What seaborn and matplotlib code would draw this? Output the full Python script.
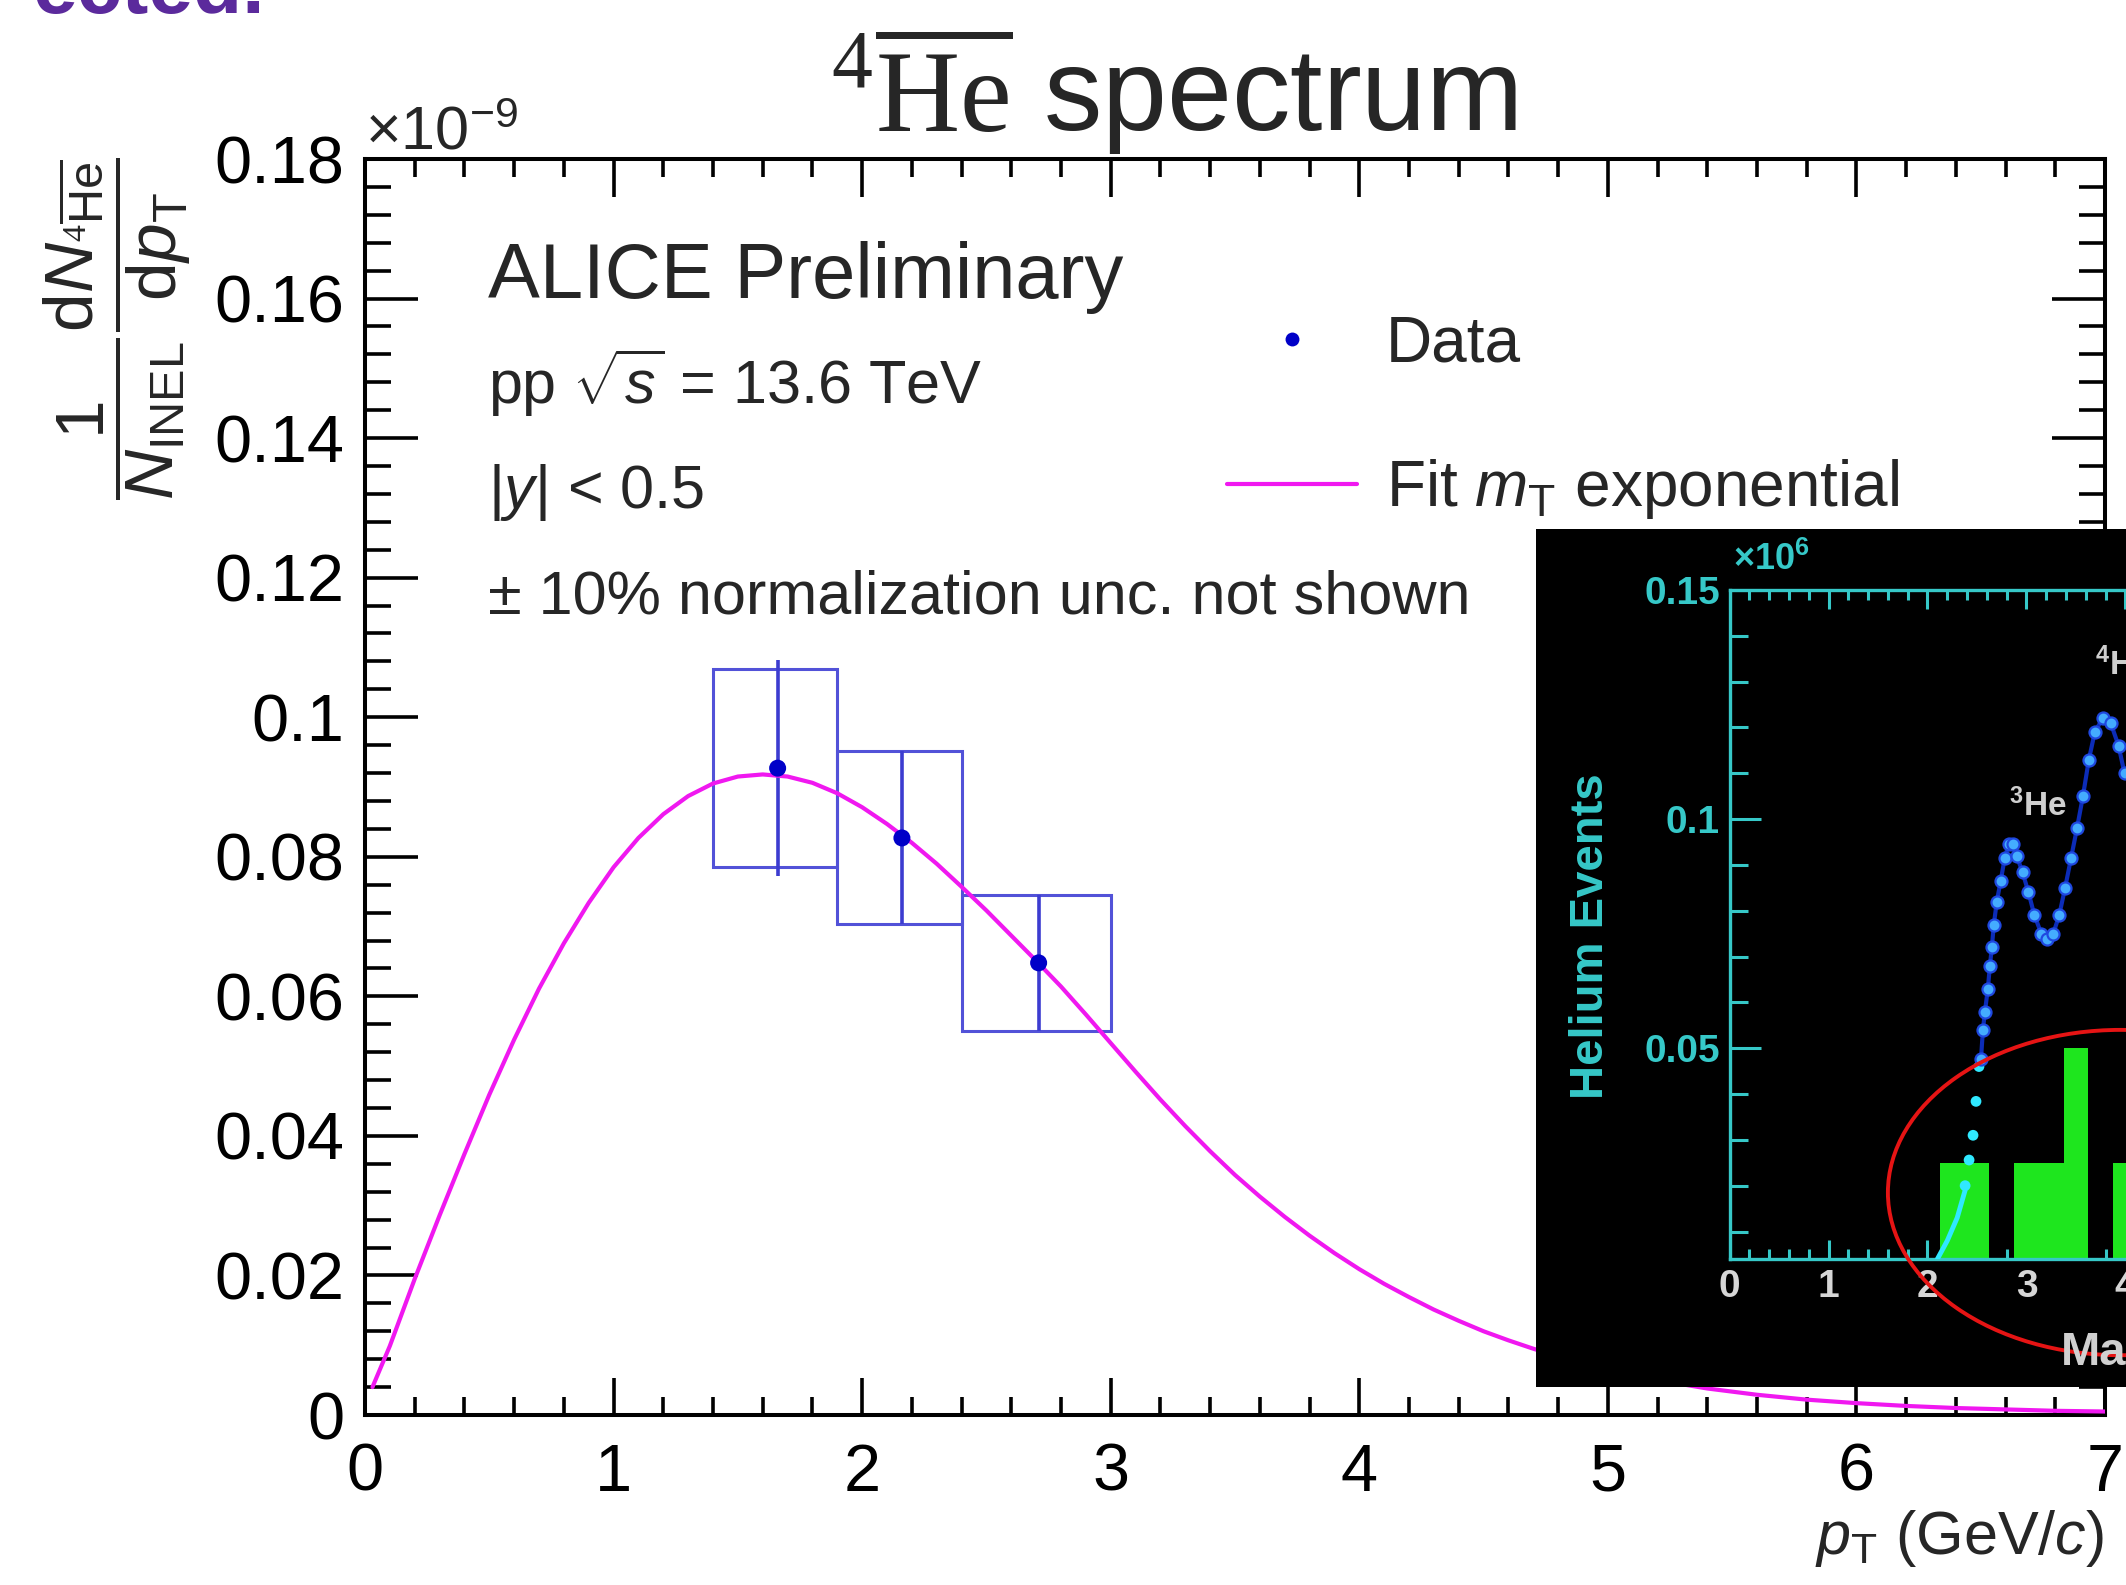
import numpy as np
import pandas as pd
import matplotlib
matplotlib.use("Agg")
import matplotlib.pyplot as plt
import seaborn as sns
from matplotlib.patches import Rectangle, Ellipse
from matplotlib.lines import Line2D
from matplotlib.ticker import MultipleLocator, FixedLocator, FuncFormatter

# ---------------- main spectrum data (y in units of 1e-9) ----------------
pt_centers = [1.66, 2.16, 2.71]
yield_vals = [0.0927, 0.0827, 0.0648]
stat_err = [0.0155, 0.0124, 0.0097]
sys_err = [0.0142, 0.0124, 0.0097]
bin_lo = [1.4, 1.9, 2.4]
bin_hi = [1.9, 2.4, 3.0]

fit_pt = [0.03, 0.1, 0.2, 0.3, 0.4, 0.5, 0.6, 0.7, 0.8, 0.9, 1.0, 1.1, 1.2, 1.3,
          1.4, 1.5, 1.6, 1.7, 1.8, 1.9, 2.0, 2.1, 2.2, 2.3, 2.4, 2.5, 2.6, 2.7,
          2.8, 2.9, 3.0, 3.1, 3.2, 3.3, 3.4, 3.5, 3.6, 3.7, 3.8, 3.9, 4.0, 4.1,
          4.2, 4.3, 4.4, 4.5, 4.6, 4.7, 4.8, 4.9, 5.0, 5.2, 5.4, 5.6, 5.8, 6.0,
          6.2, 6.4, 6.6, 6.8, 7.0]
fit_val = [0.0040, 0.0099, 0.0195, 0.0286, 0.0374, 0.0459, 0.0538, 0.0611, 0.0676,
           0.0734, 0.0785, 0.0827, 0.0861, 0.0887, 0.0905, 0.0915, 0.0918, 0.0915,
           0.0906, 0.0891, 0.0871, 0.0847, 0.0820, 0.0790, 0.0757, 0.0723, 0.0687,
           0.0651, 0.0614, 0.0574, 0.0533, 0.0492, 0.0452, 0.0414, 0.0378, 0.0344,
           0.0313, 0.0284, 0.0257, 0.0232, 0.0209, 0.0188, 0.0169, 0.0151, 0.0135,
           0.0120, 0.0107, 0.0095, 0.0084, 0.0074, 0.0065, 0.0050, 0.0038, 0.0029,
           0.0022, 0.0017, 0.0013, 0.0010, 0.0008, 0.0006, 0.0005]

x_ticks = [0, 1, 2, 3, 4, 5, 6, 7]
y_ticks = [0, 0.02, 0.04, 0.06, 0.08, 0.10, 0.12, 0.14, 0.16, 0.18]

# ---------------- inset (mass spectrum picture) data ----------------
ins_bar_left = [2.125, 2.375, 2.625, 2.875, 3.125, 3.375, 3.625, 3.875]
ins_bar_height = [0.025, 0.025, 0.0, 0.025, 0.025, 0.05, 0.0, 0.025]
ins_cyan_line_x = [2.10, 2.20, 2.30, 2.38]
ins_cyan_line_y = [0.004, 0.008, 0.013, 0.019]
ins_cyan_dot_x = [2.38, 2.42, 2.46, 2.49, 2.52]
ins_cyan_dot_y = [0.020, 0.0256, 0.031, 0.0384, 0.046]
ins_blue_x = [2.54, 2.56, 2.58, 2.61, 2.63, 2.65, 2.67, 2.70, 2.74, 2.78, 2.82, 2.86,
              2.90, 2.96, 3.02, 3.08, 3.15, 3.21, 3.27, 3.33, 3.39, 3.45, 3.51, 3.57,
              3.63, 3.69, 3.77, 3.85, 3.93, 3.99]
ins_blue_y = [0.0476, 0.054, 0.058, 0.063, 0.068, 0.072, 0.077, 0.082, 0.0866, 0.0915,
              0.0945, 0.0945, 0.092, 0.0884, 0.084, 0.079, 0.075, 0.0738, 0.075, 0.079,
              0.085, 0.0915, 0.098, 0.105, 0.113, 0.119, 0.122, 0.121, 0.116, 0.110]
ins_x_ticks = [0, 1, 2, 3, 4]
ins_y_ticks = [0.05, 0.1, 0.15]

# ---------------- style ----------------
sns.set_theme(style="ticks")
plt.rcParams["font.family"] = ["Liberation Sans", "DejaVu Sans"]
plt.rcParams.update({
    "mathtext.fontset": "custom",
    "mathtext.rm": "Liberation Serif",
    "mathtext.sf": "Liberation Sans",
    "mathtext.it": "Liberation Sans:italic",
    "mathtext.bf": "Liberation Sans:bold",
    "axes.facecolor": "white",
    "figure.facecolor": "white",
})

W, H = 2126, 1585
fig = plt.figure(figsize=(W / 100, H / 100), dpi=100)

def fx(px):
    return px / W

def fy(py):
    return 1 - py / H

# ---------------- main axes ----------------
ax = fig.add_axes([fx(365), fy(1415), 1740 / W, 1256 / H])
ax.set_xlim(0, 7)
ax.set_ylim(0, 0.18)

box_color = "#5252d8"
for lo, hi, yv, se in zip(bin_lo, bin_hi, yield_vals, sys_err):
    ax.add_patch(Rectangle((lo, yv - se), hi - lo, 2 * se, fill=False,
                           edgecolor=box_color, linewidth=2.2, zorder=3))
ax.errorbar(pt_centers, yield_vals, yerr=stat_err, fmt="none",
            ecolor="#3c3cd0", elinewidth=2.6, capsize=0, zorder=3)

sns.lineplot(x=fit_pt, y=fit_val, ax=ax, color="#f018f0", linewidth=3.0,
             sort=False, estimator=None, zorder=4)
sns.scatterplot(x=pt_centers, y=yield_vals, ax=ax, color="#0000c8", s=150,
                edgecolor="none", zorder=6)

ax.xaxis.set_major_locator(FixedLocator(x_ticks))
ax.yaxis.set_major_locator(FixedLocator(y_ticks))
ax.xaxis.set_minor_locator(MultipleLocator(0.2))
ax.yaxis.set_minor_locator(MultipleLocator(0.004))
ax.yaxis.set_major_formatter(FuncFormatter(lambda v, p: f"{v:g}"))
ax.xaxis.set_major_formatter(FuncFormatter(lambda v, p: f"{v:g}"))
ax.tick_params(which="both", direction="in", top=True, right=True,
               width=2.6, color="black", labelsize=48, labelcolor="black")
ax.tick_params(axis="x", which="major", length=27, pad=20)
ax.tick_params(axis="x", which="minor", length=13)
ax.tick_params(axis="y", which="major", length=38, pad=15)
ax.tick_params(axis="y", which="minor", length=19)
for sp in ax.spines.values():
    sp.set_linewidth(2.9)
    sp.set_color("black")
ax.set_xlabel("")
ax.set_ylabel("")

h_data = Line2D([], [], marker="o", linestyle="none", color="#0000c8",
                markersize=10, markeredgewidth=0)
h_fit = Line2D([], [], color="#f018f0", linewidth=3.0)
ax.legend(handles=[h_data, h_fit],
          labels=["Data", r"Fit $m_{\mathsf{T}}$ exponential"],
          loc="upper left", bbox_to_anchor=(fx(1227), fy(314)),
          bbox_transform=fig.transFigure, frameon=False, fontsize=46,
          handlelength=2.03, handletextpad=0.46, labelspacing=1.3,
          borderpad=0, borderaxespad=0)

# texts
fig.text(fx(830), fy(131), r"${}^{4}\overline{\mathrm{He}}$ spectrum",
         fontsize=84, ha="left", va="baseline")
fig.text(fx(488), fy(298), "ALICE Preliminary", fontsize=56, ha="left", va="baseline")
fig.text(fx(488), fy(404), r"pp $\sqrt{s}$ = 13.6 TeV", fontsize=44, ha="left", va="baseline")
fig.text(fx(488), fy(508), r"|$y$| < 0.5", fontsize=44, ha="left", va="baseline")
fig.text(fx(488), fy(614), "± 10% normalization unc. not shown", fontsize=44,
         ha="left", va="baseline")
fig.text(fx(365), fy(149), r"$\mathsf{\times10^{-9}}$", fontsize=44, ha="left", va="baseline")
fig.text(fx(2104), fy(1554), r"$p_{\mathsf{T}}$ (GeV/$c$)", fontsize=44,
         ha="right", va="baseline")
fig.text(fx(117), fy(158),
         r"$\dfrac{\mathsf{1}}{N_{\mathsf{INEL}}}\dfrac{\mathsf{d}N_{{}^{4}\overline{\mathsf{He}}}}{\mathsf{d}p_{\mathsf{T}}}$",
         fontsize=50, rotation=90, ha="center", va="top")

# cut-off slide text at the very top
fig.text(fx(265), fy(13), "ected.", fontsize=58, fontweight="bold",
         color="#5b2a9c", ha="right", va="baseline")

# ---------------- inset picture ----------------
bg = fig.add_axes([fx(1536), fy(1387), (W - 1536) / W, (1387 - 529) / H])
bg.set_facecolor("black")
bg.set_xticks([])
bg.set_yticks([])
for sp in bg.spines.values():
    sp.set_visible(False)

cyan = "#36c8c8"
ins = fig.add_axes([fx(1729.5), fy(1259), 495 / W, (1259 - 590) / H])
ins.set_facecolor("black")
ins.set_xlim(0, 5)
ins.set_ylim(0.004, 0.15)
ins.bar(ins_bar_left, ins_bar_height, width=0.25, align="edge",
        color="#1ee61e", edgecolor="none", zorder=2)
sns.lineplot(x=ins_cyan_line_x, y=ins_cyan_line_y, ax=ins, color="#30e8ff",
             linewidth=3.5, sort=False, estimator=None, zorder=3)
sns.scatterplot(x=ins_cyan_dot_x, y=ins_cyan_dot_y, ax=ins, color="#30e8ff",
                s=60, edgecolor="none", zorder=4)
sns.lineplot(x=ins_blue_x, y=ins_blue_y, ax=ins, color="#0c2cb8",
             linewidth=3, sort=False, estimator=None, zorder=4)
sns.scatterplot(x=ins_blue_x, y=ins_blue_y, ax=ins, color="#44acff", s=75,
                edgecolor="#1f48e0", linewidth=1.6, zorder=5)
ins.add_patch(Ellipse((3.95, 0.0185), width=4.7, height=0.071, fill=False,
                      edgecolor="#e61414", linewidth=2.8, clip_on=False, zorder=6))
ins.text(3.11, 0.103, r"${}^{\mathbf{3}}$He", color="#cfcfcf", fontsize=24,
         fontweight="bold", ha="center", va="center")
ins.text(3.69, 0.1336, r"${}^{\mathbf{4}}$He", color="#cfcfcf", fontsize=24,
         fontweight="bold", ha="left", va="center")

ins.xaxis.set_major_locator(FixedLocator(ins_x_ticks))
ins.yaxis.set_major_locator(FixedLocator(ins_y_ticks))
ins.xaxis.set_minor_locator(MultipleLocator(0.2))
ins.yaxis.set_minor_locator(MultipleLocator(0.01))
ins.xaxis.set_major_formatter(FuncFormatter(lambda v, p: f"{v:g}"))
ins.yaxis.set_major_formatter(FuncFormatter(lambda v, p: f"{v:g}"))
ins.tick_params(which="both", direction="in", top=True, right=False,
                width=2.2, color=cyan)
ins.tick_params(axis="x", which="major", length=14, pad=7, labelsize=28,
                labelcolor="#d6d6d6")
ins.tick_params(axis="x", which="minor", length=7)
ins.tick_params(axis="y", which="major", length=22, pad=7, labelsize=28,
                labelcolor=cyan)
ins.tick_params(axis="y", which="minor", length=13)
for lab in ins.get_xticklabels() + ins.get_yticklabels():
    lab.set_fontweight("bold")
for sp in ins.spines.values():
    sp.set_color(cyan)
    sp.set_linewidth(2.4)
ins.set_xlabel("")
ins.set_ylabel("")

fig.text(fx(1591), fy(936), "Helium Events", color=cyan, fontsize=34,
         fontweight="bold", rotation=90, ha="center", va="center")
fig.text(fx(1733), fy(570), r"$\mathbf{\times10^{6}}$", color=cyan, fontsize=26,
         ha="left", va="baseline")
fig.text(fx(2061), fy(1353), "Mass", color="#d0d0d0", fontsize=34,
         fontweight="bold", ha="left", va="center")

fig.savefig("out.png", dpi=100)
